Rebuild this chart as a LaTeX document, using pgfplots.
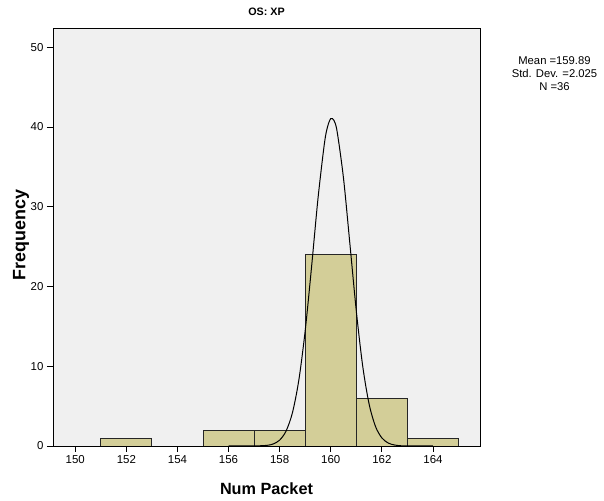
\documentclass[border=0pt]{standalone}
\usepackage{fontspec}
\setmainfont{Liberation Sans}
\usepackage{pgfplots}
\pgfplotsset{compat=1.18}
\definecolor{plotbg}{HTML}{F0F0F0}
\definecolor{barfill}{HTML}{D3CE98}

\begin{document}
\begin{tikzpicture}[x=1bp,y=1bp]
\useasboundingbox (-53,-55) rectangle (551,446);
\begin{axis}[
  at={(0,0)}, anchor=south west,
  width=427bp, height=418bp, scale only axis,
  xmin=149.13, xmax=165.84, ymin=0, ymax=52.4,
  xtick={150,152,...,164}, ytick={0,10,...,50},
  tick align=outside, tick pos=left, major tick length=6bp,
  axis background/.style={fill=plotbg},
  axis line style={black, line width=0.8bp},
  tick style={black, line width=0.8bp},
  ticklabel style={font=\fontsize{11.5}{13}\selectfont},
  /pgf/number format/assume math mode=true,
  /pgf/number format/1000 sep={},
  xlabel={Num Packet}, ylabel={Frequency},
  xlabel style={font=\fontsize{16.3}{18}\selectfont\bfseries, at={(axis description cs:0.5,-0.103)}, anchor=center},
  ylabel style={font=\fontsize{18}{20}\selectfont\bfseries, at={(axis description cs:-0.075,0.505)}, anchor=center},
  title={OS: XP},
  title style={font=\fontsize{10.8}{12}\selectfont\bfseries, at={(axis description cs:0.5,1.024)}, anchor=center},
]
% histogram bars (bin width 2)
\addplot[ybar, bar width=2, bar shift=0pt, fill=barfill, draw=black!85, line width=0.8bp]
  coordinates {(152,1) (156,2) (158,2) (160,24) (162,6) (164,1)};
% normal curve
\addplot[black, line width=1bp, smooth, no marks] coordinates {
  (156,0) (157,0.01) (157.5,0.08) (157.75,0.26) (158,0.74) (158.25,1.87)
  (158.5,4.17) (158.75,8.26) (159,14.48) (159.25,22.51) (159.5,31.03)
  (159.75,37.90) (159.875,40.03) (160,41.04) (160.125,40.81) (160.25,39.39) (160.5,33.51)
  (160.75,25.28) (161,16.90) (161.25,10.01) (161.5,5.26) (161.75,2.45)
  (162,1.01) (162.25,0.37) (162.5,0.12) (162.75,0.03) (163,0.01) (164,0)
};
\end{axis}
\node[align=center, font=\fontsize{11.3}{13}\selectfont, inner sep=0pt] at (501.5,372)
  {Mean =159.89\\Std. Dev. =2.025\\N =36};
\end{tikzpicture}
\end{document}
